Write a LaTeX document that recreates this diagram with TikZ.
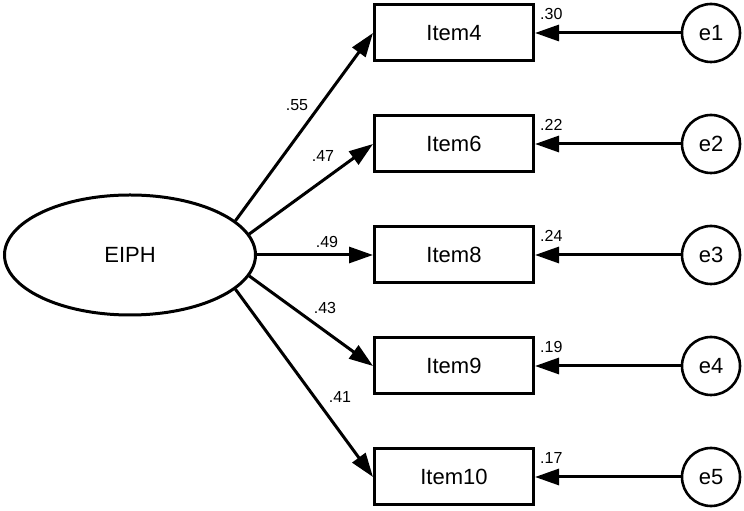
\documentclass[tikz,border=0pt]{standalone}
\usepackage{fontspec}
\setmainfont{Liberation Sans}
\usepackage{tikz}
\usetikzlibrary{arrows.meta,shapes.geometric,positioning}

\tikzset{
    latent/.style={draw,ellipse,line width=3pt,minimum width=251pt,minimum height=120pt,inner sep=0pt,font=\fontsize{22}{26}\selectfont},
    itembox/.style={draw,rectangle,line width=3pt,minimum width=159pt,minimum height=56pt,inner sep=0pt,font=\fontsize{22}{26}\selectfont},
    errcirc/.style={draw,circle,line width=2.6pt,minimum size=58pt,inner sep=0pt,font=\fontsize{22}{26}\selectfont},
    coef/.style={font=\fontsize{16}{19}\selectfont,inner sep=1pt},
    path/.style={line width=3pt,-{Triangle[length=24pt,width=16pt]}}
}

\begin{document}
\begin{tikzpicture}[x=1pt,y=1pt]
        \useasboundingbox (0,0) rectangle (744,511);
        \node[latent] (EIPH) at (130,256) {EIPH};
        \node[itembox] (I4) at (454,478) {Item4};
        \node[itembox] (I6) at (454,367) {Item6};
        \node[itembox] (I8) at (454,256) {Item8};
        \node[itembox] (I9) at (454,145) {Item9};
        \node[itembox] (I10) at (454,34) {Item10};
        \node[errcirc] (e1) at (711,478) {e1};
        \node[errcirc] (e2) at (711,367) {e2};
        \node[errcirc] (e3) at (711,256) {e3};
        \node[errcirc] (e4) at (711,145) {e4};
        \node[errcirc] (e5) at (711,34) {e5};
        % loadings
        \begin{scope}[path]
            \draw (EIPH.18) -- (I4.west);
            \draw (EIPH.10) -- (I6.west);
            \draw (EIPH.east) -- (I8.west);
            \draw (EIPH.-10) -- (I9.west);
            \draw (EIPH.-18) -- (I10.west);
            \draw (e1) -- (I4);
            \draw (e2) -- (I6);
            \draw (e3) -- (I8);
            \draw (e4) -- (I9);
            \draw (e5) -- (I10);
        \end{scope}
        \node[coef] (l4) at (297,406) {.55};
        \node[coef] (l6) at (323,355) {.47};
        \node[coef] (l8) at (327,269) {.49};
        \node[coef] (l9) at (325,203) {.43};
        \node[coef] (l10) at (340,114) {.41};
        % squared multiple correlations
        \node[coef,anchor=west] (r4) at ([xshift=4pt,yshift=-10pt]I4.north east) {.30};
        \node[coef,anchor=west] (r6) at ([xshift=4pt,yshift=-10pt]I6.north east) {.22};
        \node[coef,anchor=west] (r8) at ([xshift=4pt,yshift=-10pt]I8.north east) {.24};
        \node[coef,anchor=west] (r9) at ([xshift=4pt,yshift=-10pt]I9.north east) {.19};
        \node[coef,anchor=west] (r10) at ([xshift=4pt,yshift=-10pt]I10.north east) {.17};
    \end{tikzpicture}
\end{document}
